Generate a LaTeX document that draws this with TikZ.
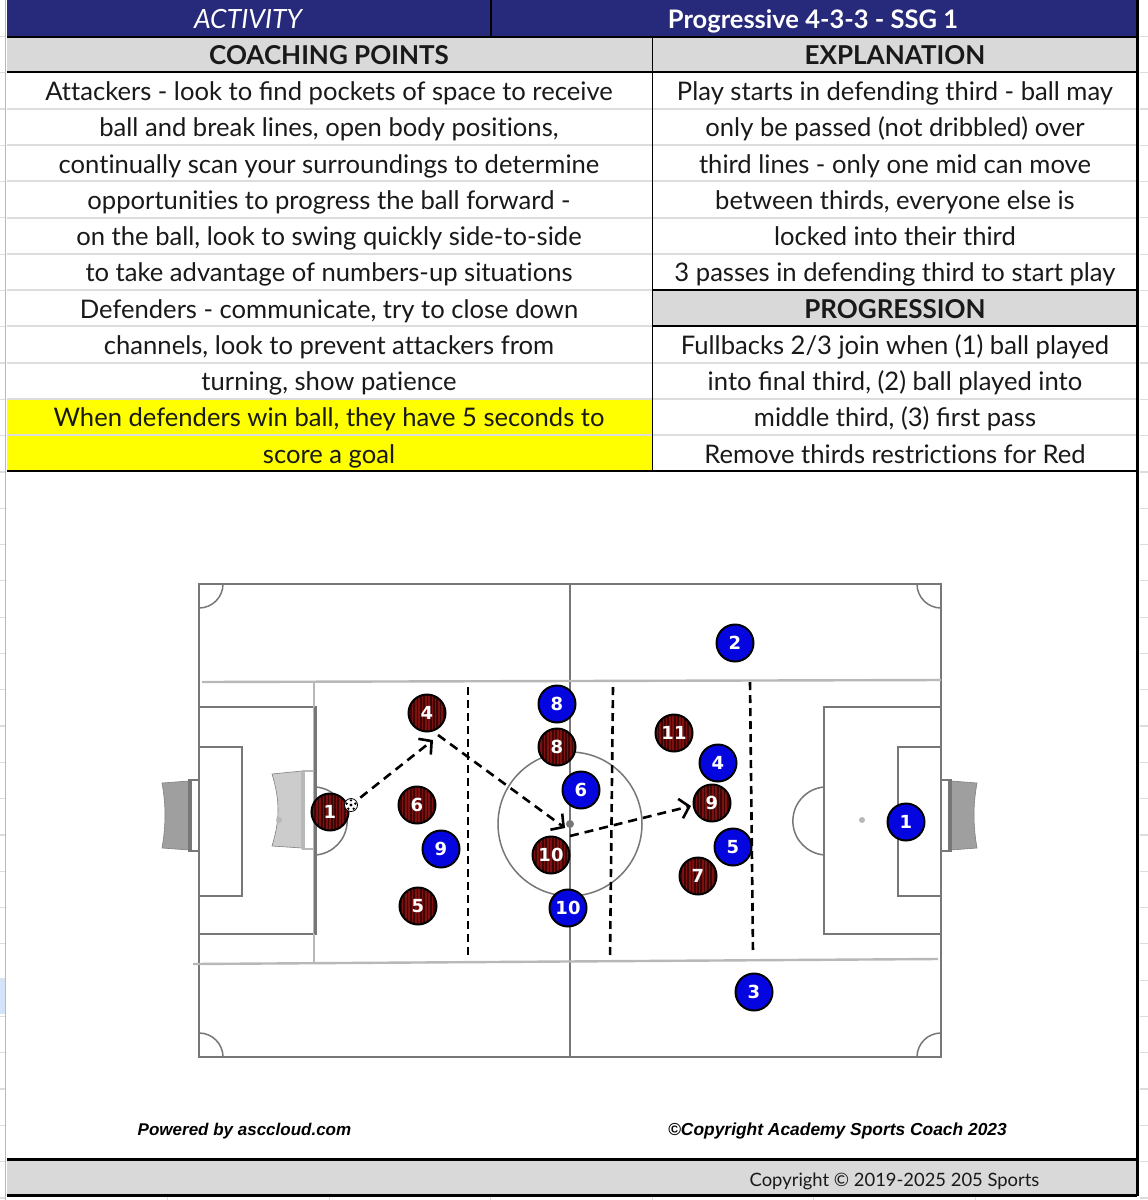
\documentclass[tikz,border=0pt]{standalone}
\usepackage{fontspec}
\setmainfont[RawFeature={-liga}]{Lato}
\newfontfamily\ligfont{Lato}
\newfontfamily\markfont{Liberation Sans}
\newfontfamily\numfont{DejaVu Sans}
\usepackage{xcolor}
\usetikzlibrary{arrows.meta, patterns.meta}
\definecolor{navyhead}{HTML}{27297A}
\definecolor{greycell}{HTML}{D9D9D9}
\definecolor{gridgrey}{HTML}{DDDDDD}
\definecolor{pitchgrey}{HTML}{777777}
\definecolor{thirdgrey}{HTML}{B8B8B8}
\definecolor{maroondark}{HTML}{3A0606}
\definecolor{maroonstripe}{HTML}{7E1010}
\definecolor{blueteam}{HTML}{0505E0}
\definecolor{rowblue}{HTML}{D3E3FA}
\definecolor{cellyellow}{HTML}{FFFF00}
\tikzset{
  celltext/.style = {anchor = base, inner sep = 0, text = black!90, font = \fontsize{25.6}{30}\selectfont},
  headtext/.style = {celltext, font = \fontsize{26}{30}\selectfont\bfseries},
  player/.style = {circle, draw = black, line width = 2, minimum size = 37, inner sep = 0, text = white, font = \numfont\fontsize{18}{18}\selectfont\bfseries},
  redplayer/.style = {player, preaction = {fill = maroondark}, pattern = {Lines[angle = 90, distance = 3.3pt, line width = 1.6pt]}, pattern color = maroonstripe},
  blueplayer/.style = {player, fill = blueteam},
  pitchline/.style = {draw = pitchgrey, line width = 1.7},
  thirdline/.style = {draw = thirdgrey, line width = 2.4},
  splitline/.style = {draw = black, line width = 2.6, dash pattern = on 8pt off 5pt},
  passline/.style = {-{Straight Barb[length = 9pt, width = 20pt, line width = 2.6pt]}, draw = black, line width = 2.6, dash pattern = on 9pt off 6pt},
  goalnet/.style = {fill = #1, draw = gray, line width = 0.6}
}
\begin{document}
\begin{tikzpicture}[x = 1pt, y = -1pt]
\useasboundingbox (0,0) rectangle (1148,1200);
\fill [white] (0,0) rectangle (1148,1200);
\fill [rowblue] (0,978) rectangle (5,1014);
\foreach \k in {1,2,...,33}
\draw [gridgrey, line width = 1.2] (0,36.3*\k) -- (5,36.3*\k);
\foreach \k in {1,2,...,33}
\draw [gridgrey, line width = 1.2] (1140,36.3*\k) -- (1148,36.3*\k);
\foreach \x in {167,329,490,652,813,975}
\draw [gridgrey] (\x,1197) -- (\x,1200);
\draw [thirdgrey, line width = 1.5] (5.5,0) -- (5.5,1200);

\fill [navyhead] (7,0) rectangle (1136,36);
\fill [greycell] (7,37) rectangle (1136,72);
\fill [greycell] (653,290) rectangle (1136,326);
\fill [cellyellow] (7,399) rectangle (652,471);
\fill [greycell] (7,1160) rectangle (1136,1194);
\foreach \y in {109,145,181,218,254,290,326,363,399,435}
\draw [gridgrey, line width = 1.2] (7,\y) -- (652,\y);
\foreach \y in {109,145,181,218,254,363,399,435}
\draw [gridgrey, line width = 1.2] (653,\y) -- (1136,\y);
\draw [black, line width = 1.5] (491,0) -- (491,36);
\draw [black, line width = 2] (7,36.5) -- (1136,36.5);
\draw [black, line width = 2] (7,72) -- (1136,72);
\draw [black, line width = 1.5] (652.5,37) -- (652.5,471);
\draw [black, line width = 2] (653,290) -- (1136,290);
\draw [black, line width = 2] (653,326) -- (1136,326);
\draw [black, line width = 2] (7,471) -- (1136,471);
\draw [black, line width = 3] (1137,0) -- (1137,1196);
\draw [black, line width = 3] (7,1159) -- (1137,1159);
\draw [black, line width = 3] (7,1195.5) -- (1137,1195.5);

\node (activity) at (248,28) [celltext, text = white, font = \fontsize{26.5}{30}\selectfont\itshape] {ACTIVITY};
\node (session) at (813,28) [headtext, text = white, font = \fontsize{25.5}{30}\selectfont\bfseries] {Progressive 4-3-3 - SSG 1};
\node (coaching) at (329,64) [headtext] {COACHING POINTS};
\node (explanation) at (895,64) [headtext] {EXPLANATION};
\node (progression) at (895,318) [headtext] {PROGRESSION};
\foreach \n/\y/\t in {1/100/{Attackers - look to {\ligfont fi}nd pockets of space to receive},
2/136/{ball and break lines, open body positions,},
3/173/{continually scan your surroundings to determine},
4/209/{opportunities to progress the ball forward -},
5/245/{on the ball, look to swing quickly side-to-side},
6/281/{to take advantage of numbers-up situations},
7/318/{Defenders - communicate, try to close down},
8/354/{channels, look to prevent attackers from},
9/390/{turning, show patience},
10/426/{When defenders win ball, they have 5 seconds to},
11/463/{score a goal}}
\node (coach\n) at (329,\y) [celltext] {\t};
\foreach \n/\y/\t in {1/100/{Play starts in defending third - ball may},
2/136/{only be passed (not dribbled) over},
3/173/{third lines - only one mid can move},
4/209/{between thirds, everyone else is},
5/245/{locked into their third},
6/281/{3 passes in defending third to start play},
7/354/{Fullbacks 2/3 join when (1) ball played},
8/390/{into {\ligfont fi}nal third, (2) ball played into},
9/426/{middle third, (3) {\ligfont fi}rst pass},
10/463/{Remove thirds restrictions for Red}}
\node (explain\n) at (895,\y) [celltext] {\t};

\draw [pitchline] (199,584) rectangle (941,1057);
\draw [pitchline] (570,584) -- (570,1057);
\draw [pitchline] (199,707) rectangle (316,934);
\draw [pitchline] (199,747) rectangle (242,896);
\draw [pitchline] (824,707) rectangle (941,934);
\draw [pitchline] (898,747) rectangle (941,896);
\draw [pitchgrey, line width = 1.5] (570,824) circle (72pt);
\fill [pitchgrey] (570,824) circle (4pt);
\fill [thirdgrey] (862,820) circle (3pt);
\draw [pitchgrey, line width = 1.5] (316,787) arc [start angle = 85, end angle = -85, radius = 34.1pt];
\draw [pitchgrey, line width = 1.5] (824,787) arc [start angle = 95, end angle = 265, radius = 34.1pt];
\draw [pitchgrey, line width = 1.5] (223,584) arc [start angle = 0, end angle = -90, radius = 24pt];
\draw [pitchgrey, line width = 1.5] (199,1033) arc [start angle = 90, end angle = 0, radius = 24pt];
\draw [pitchgrey, line width = 1.5] (917,584) arc [start angle = 180, end angle = 270, radius = 24pt];
\draw [pitchgrey, line width = 1.5] (941,1033) arc [start angle = 90, end angle = 180, radius = 24pt];

\draw [goalnet = gray!75] (189,781) -- (162,783) .. controls (166,805) and (166,825) .. (162,848) -- (189,850) -- cycle;
\draw [pitchline] (199,780) -- (189,780) -- (189,851) -- (199,851);
\draw [pitchline, line width = 3.5] (190,780) -- (190,851);
\draw [goalnet = gray!75] (951,781) -- (977,783) .. controls (973,805) and (973,825) .. (977,848) -- (951,850) -- cycle;
\draw [pitchline] (941,780) -- (951,780) -- (951,851) -- (941,851);
\draw [pitchline, line width = 3.5] (950,780) -- (950,851);
\draw [goalnet = gray!40] (302,771) -- (272,774) .. controls (280,800) and (280,820) .. (272,846) -- (302,848) -- cycle;
\draw [thirdline] (316,771) -- (303,771) -- (303,849) -- (316,849);
\draw [thirdline, line width = 3.5] (303,771) -- (303,849);
\fill [thirdgrey] (279,820) circle (3pt);

\draw [thirdline] (202,682) -- (941,680);
\draw [thirdline] (193,964) -- (938,959);
\draw [thirdline, line width = 1.5] (314,682) -- (314,964);
\draw [pitchline, line width = 2.4] (315.5,707) -- (315.5,934);

\draw [splitline] (468,687) -- (468,959);
\draw [splitline] (613,687) -- (610,959);
\draw [splitline] (750,682) -- (753,953);

\foreach \n/\x/\y in {1/330/812,4/427/713,6/417/805,5/418/906,8/557/747,10/551/855,11/674/733,9/712/803,7/698/876}
\node (red\n) at (\x,\y) [redplayer] {\n};
\foreach \n/\x/\y in {8/557/704,9/441/849,6/581/790,10/568/908,2/735/643,4/718/763,5/733/847,1/906/822,3/754/992}
\node (blue\n) at (\x,\y) [blueplayer] {\n};

\node (ball) at (351,805) [circle, fill = white, draw = black, line width = 0.8, minimum size = 13, inner sep = 0] {};
\fill (ball) circle (1.6pt);
\foreach \a in {18,90,162,234,306}
\fill (ball) ++(\a:4.6pt) circle (1.3pt);

\coordinate (recv4) at (433,740);
\coordinate (leave4) at (438,735);
\coordinate (recv10) at (565,828);
\coordinate (leave10) at (570,836);
\coordinate (recv9) at (691,806);
\draw [passline, shorten <= 5pt] (ball) -- (recv4);
\draw [passline] (leave4) -- (recv10);
\draw [passline] (leave10) -- (recv9);

\node (powered) at (244.5,1135) [anchor = base, inner sep = 0, font = \markfont\fontsize{17}{17}\selectfont\bfseries\itshape] {Powered by asccloud.com};
\node (copyacademy) at (837.5,1135) [anchor = base, inner sep = 0, font = \markfont\fontsize{17.4}{17}\selectfont\bfseries\itshape] {©Copyright Academy Sports Coach 2023};
\node (copysports) at (894.5,1186) [anchor = base, inner sep = 0, text = black!90, font = \fontsize{18.4}{23}\selectfont] {Copyright © 2019-2025 205 Sports};
\end{tikzpicture}
\end{document}
